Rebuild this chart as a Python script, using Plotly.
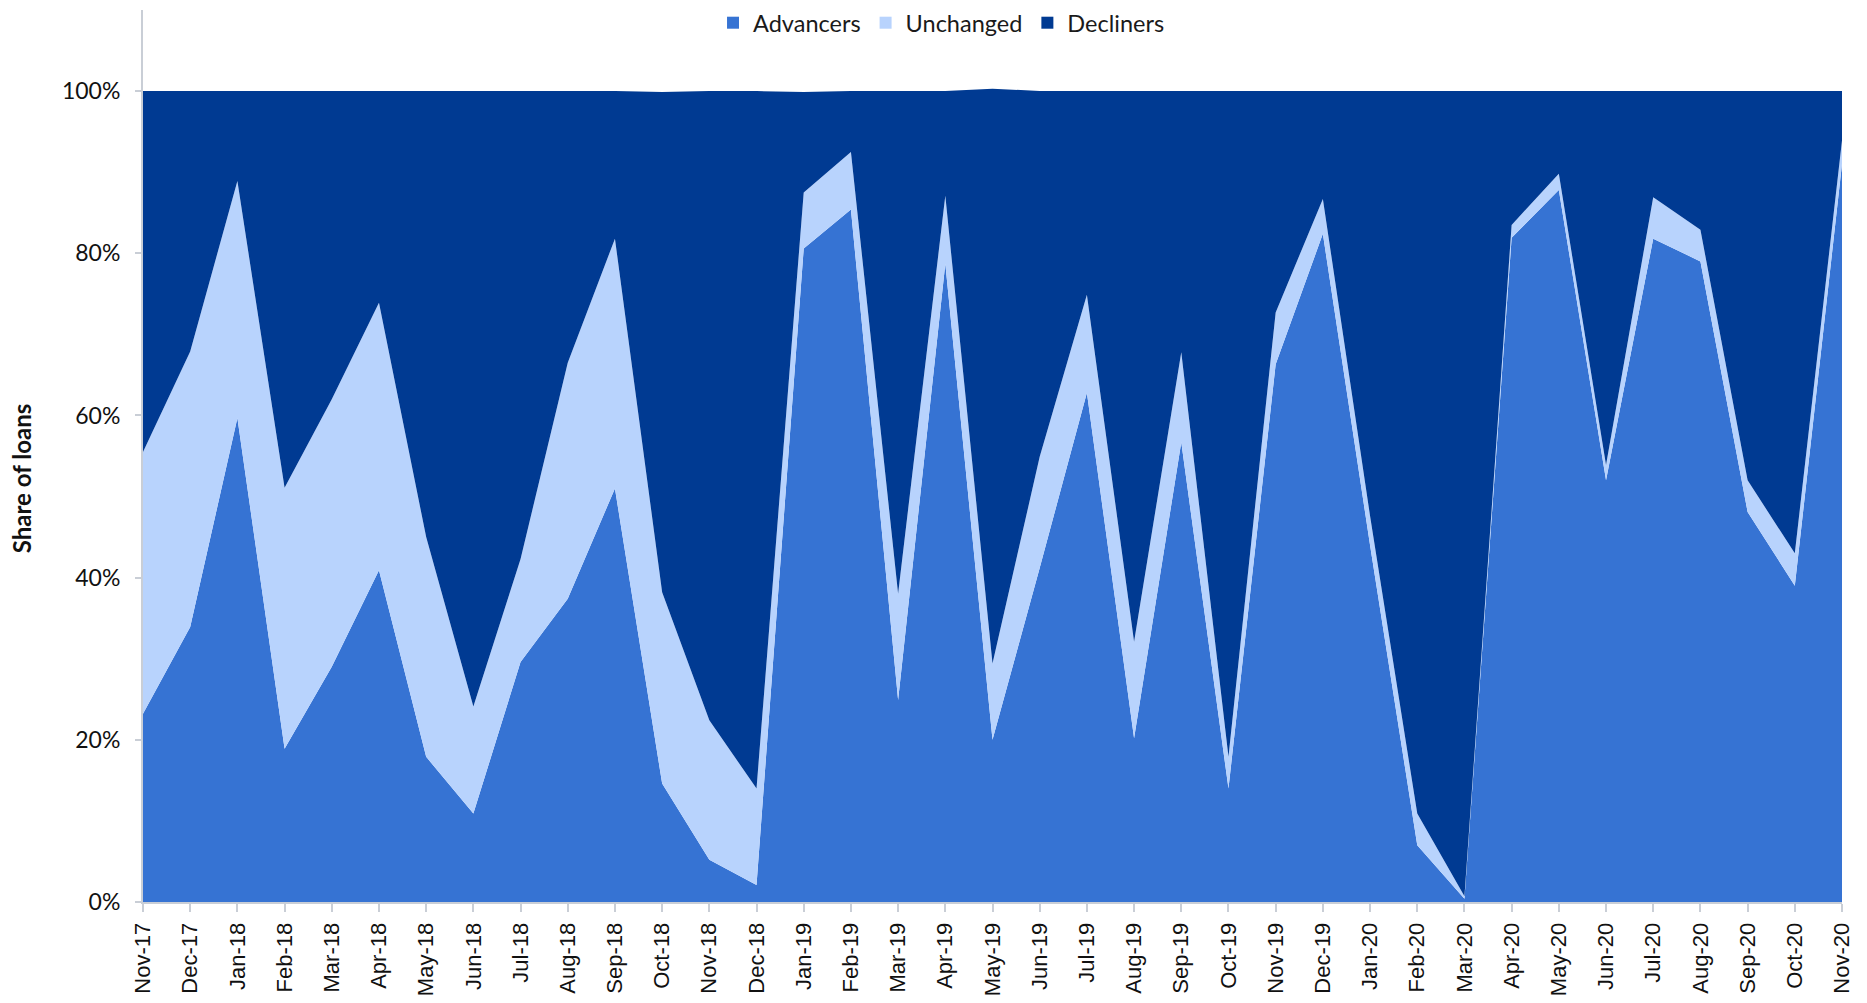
import plotly.graph_objects as go

months = ["Nov-17", "Dec-17", "Jan-18", "Feb-18", "Mar-18", "Apr-18", "May-18", "Jun-18",
          "Jul-18", "Aug-18", "Sep-18", "Oct-18", "Nov-18", "Dec-18", "Jan-19", "Feb-19",
          "Mar-19", "Apr-19", "May-19", "Jun-19", "Jul-19", "Aug-19", "Sep-19", "Oct-19",
          "Nov-19", "Dec-19", "Jan-20", "Feb-20", "Mar-20", "Apr-20", "May-20", "Jun-20",
          "Jul-20", "Aug-20", "Sep-20", "Oct-20", "Nov-20"]

# shares (fraction of loans)
advancers = [0.232, 0.339, 0.597, 0.189, 0.290, 0.409, 0.179, 0.109,
             0.296, 0.374, 0.510, 0.146, 0.052, 0.021, 0.806, 0.854,
             0.249, 0.787, 0.200, 0.412, 0.628, 0.202, 0.567, 0.140,
             0.663, 0.824, 0.440, 0.070, 0.004, 0.819, 0.878, 0.520,
             0.818, 0.790, 0.481, 0.390, 0.910]
unchanged = [0.323, 0.340, 0.292, 0.322, 0.330, 0.330, 0.271, 0.132,
             0.127, 0.291, 0.308, 0.236, 0.172, 0.119, 0.069, 0.071,
             0.131, 0.084, 0.094, 0.137, 0.121, 0.119, 0.111, 0.039,
             0.064, 0.043, 0.036, 0.039, 0.003, 0.016, 0.020, 0.019,
             0.051, 0.039, 0.039, 0.040, 0.029]
decliners = [0.445, 0.321, 0.111, 0.489, 0.380, 0.261, 0.550, 0.759,
             0.577, 0.335, 0.182, 0.617, 0.776, 0.860, 0.124, 0.075,
             0.620, 0.129, 0.709, 0.451, 0.251, 0.679, 0.322, 0.821,
             0.273, 0.133, 0.524, 0.891, 0.993, 0.165, 0.102, 0.461,
             0.131, 0.171, 0.480, 0.570, 0.061]

series = [("Advancers", advancers, "#3673D3"),
          ("Unchanged", unchanged, "#B8D3FD"),
          ("Decliners", decliners, "#003A92")]

fig = go.Figure()
for name, vals, col in series:
    fig.add_trace(go.Scatter(
        x=months, y=vals, name=name, stackgroup="one", mode="lines",
        line=dict(width=0, color=col), fillcolor=col, showlegend=False,
        hovertemplate="%{x}: %{y:.1%}<extra>" + name + "</extra>"))
for name, vals, col in series:
    fig.add_trace(go.Scatter(
        x=[None], y=[None], name=name, mode="markers",
        marker=dict(symbol="square", size=12, color=col), showlegend=True))

axis_col = "#C9CED6"
# the page body keeps its default 8px margin, so the figure is sized to fit inside it
fig.update_layout(
    width=1851, height=987,
    paper_bgcolor="white", plot_bgcolor="white",
    margin=dict(l=135, r=17, t=2, b=93, autoexpand=False),
    font=dict(family="Lato", size=22, color="#1a1a1a"),
    legend=dict(orientation="h", xref="paper", yref="paper",
                x=0.47, xanchor="center", y=0.9855, yanchor="middle",
                traceorder="normal",
                font=dict(family="Lato", size=23.5, color="#1a1a1a"),
                itemwidth=30, tracegroupgap=0, bgcolor="rgba(0,0,0,0)"),
    showlegend=True,
    annotations=[dict(text="<b>Share of loans</b>", textangle=-90,
                      xref="paper", yref="paper", x=-0.0718, y=0.474,
                      xanchor="center", yanchor="middle", showarrow=False,
                      font=dict(family="Lato", size=24, color="#111111"))],
)
fig.update_xaxes(
    type="category", range=[0, len(months) - 1], automargin=False,
    tickangle=-90, ticks="outside", ticklen=8, tickcolor=axis_col, tickwidth=2,
    showline=True, linecolor=axis_col, linewidth=2, showgrid=False, zeroline=False,
    tickfont=dict(family="Liberation Sans", size=22, color="#111111"),
    ticklabelstandoff=2,
)
fig.update_yaxes(
    range=[0, 1.1], tickvals=[0, 0.2, 0.4, 0.6, 0.8, 1.0], tickformat=".0%",
    automargin=False,
    ticks="outside", ticklen=6, tickcolor=axis_col, tickwidth=2,
    showline=True, linecolor=axis_col, linewidth=2, showgrid=False, zeroline=False,
    tickfont=dict(family="Lato", size=23, color="#111111"), ticklabelstandoff=10,
)

fig.write_html("out.html")
